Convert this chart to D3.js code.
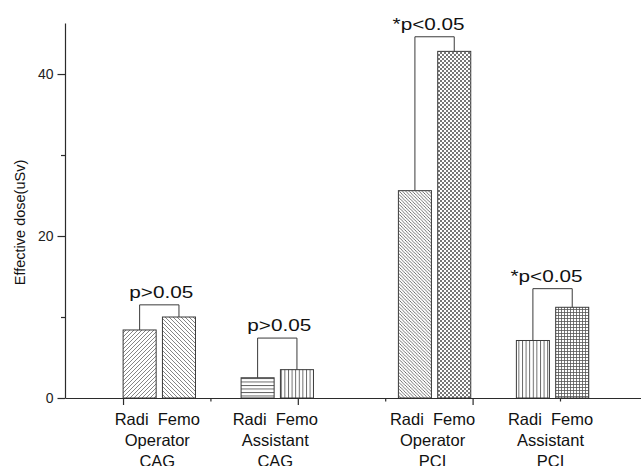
<!DOCTYPE html>
<html>
<head>
<meta charset="utf-8">
<script src="https://cdn.jsdelivr.net/npm/d3@7"></script>
<style>
html, body { margin: 0; padding: 0; background: #fff; }
svg { display: block; font-family: "Liberation Sans", Arial, sans-serif; }
.axis path, .axis line { stroke: #2b2b2b; stroke-width: 1.2; }
.axis text { font-size: 14px; fill: #222; font-family: "Liberation Sans", Arial, sans-serif; }
</style>
</head>
<body>
<script>

// data
var roles = ["Operator", "Assistant", "Operator", "Assistant"];
var procedures = ["CAG", "CAG", "PCI", "PCI"];
var radiValues = [8.4, 2.5, 25.6, 7.1];
var femoValues = [10.0, 3.5, 42.8, 11.2];
var radiPos = [1.19, 2.54, 4.34, 5.69];
var femoPos = [1.64, 2.99, 4.79, 6.14];
var pLabels = ["p>0.05", "p>0.05", "*p<0.05", "*p<0.05"];
var bracketLevels = [11.5, 7.4, 44.6, 13.5];
var radiFills = ["diagUp", "hLines", "diagDownFine", "vLines"];
var femoFills = ["diagDown", "vLines", "checker", "grid"];
var yMajor = [0, 20, 40];
var yMinor = [10, 30];
var xMajor = [1, 3, 5];
var xMinor = [2, 4, 6];

var width = 641, height = 466, barW = 0.378;

var svg = d3.select("body").append("svg")
    .attr("width", width)
    .attr("height", height);

var x = d3.scaleLinear().domain([0.336, 6.927]).range([65, 641]);
var y = d3.scaleLinear().domain([0, 46.3]).range([398, 23]);

// hatch patterns
var defs = svg.append("defs");
function pattern(id, w, h, draw) {
  var p = defs.append("pattern")
      .attr("id", id)
      .attr("patternUnits", "userSpaceOnUse")
      .attr("width", w)
      .attr("height", h);
  p.append("rect").attr("width", w).attr("height", h).attr("fill", "#fff");
  draw(p);
}
function lines(d, sw, col) {
  return function(p) {
    p.append("path").attr("d", d).attr("stroke", col || "#555")
        .attr("stroke-width", sw).attr("fill", "none");
  };
}
pattern("diagUp", 4, 4, lines("M-1,1 l2,-2 M0,4 l4,-4 M3,5 l2,-2", 0.8, "#666"));
pattern("diagDown", 4, 4, lines("M-1,3 l2,2 M0,0 l4,4 M3,-1 l2,2", 0.8, "#666"));
pattern("diagDownFine", 3.3, 3.3, lines("M-1,2.3 l2,2 M0,0 l3.3,3.3 M2.3,-1 l2,2", 0.8));
pattern("hLines", 4, 3.5, lines("M0,0.5 h4", 0.9));
pattern("vLines", 3.6, 4, lines("M0.5,0 v4", 0.9));
pattern("grid", 3, 3, lines("M0,0.5 h3 M0.5,0 v3", 0.8, "#555"));
pattern("checker", 4, 4, function(p) {
  p.append("rect").attr("x", 0).attr("y", 0).attr("width", 2).attr("height", 2).attr("fill", "#777");
  p.append("rect").attr("x", 2).attr("y", 2).attr("width", 2).attr("height", 2).attr("fill", "#777");
});

// axes
svg.append("g").attr("class", "axis")
    .attr("transform", "translate(65,0)")
    .call(d3.axisLeft(y).tickValues(yMajor).tickSize(7.5).tickSizeOuter(0).tickPadding(4));
svg.append("g").attr("class", "axis")
    .attr("transform", "translate(65,0)")
    .call(d3.axisLeft(y).tickValues(yMinor).tickSize(4).tickSizeOuter(0).tickFormat(""))
    .select(".domain").remove();

var bars = svg.append("g");
radiValues.forEach(function(v, i) {
  [[radiPos[i], v, radiFills[i]], [femoPos[i], femoValues[i], femoFills[i]]].forEach(function(b) {
    bars.append("rect")
        .attr("x", x(b[0] - barW / 2))
        .attr("y", y(b[1]))
        .attr("width", x(b[0] + barW / 2) - x(b[0] - barW / 2))
        .attr("height", y(0) - y(b[1]))
        .attr("fill", "url(#" + b[2] + ")")
        .attr("stroke", "#3a3a3a")
        .attr("stroke-width", 1);
  });
});

svg.append("g").attr("class", "axis")
    .attr("transform", "translate(0," + y(0) + ")")
    .call(d3.axisBottom(x).tickValues(xMajor).tickSize(7).tickSizeOuter(0).tickFormat(""));
svg.append("g").attr("class", "axis")
    .attr("transform", "translate(0," + y(0) + ")")
    .call(d3.axisBottom(x).tickValues(xMinor).tickSize(3.5).tickSizeOuter(0).tickFormat(""))
    .select(".domain").remove();

// significance brackets
var br = svg.append("g");
pLabels.forEach(function(lab, i) {
  var x1 = x(radiPos[i]), x2 = x(femoPos[i]), top = y(bracketLevels[i]);
  br.append("path")
      .attr("d", "M" + x1 + "," + y(radiValues[i]) + "V" + top + "H" + x2 + "V" + y(femoValues[i]))
      .attr("fill", "none")
      .attr("stroke", "#3a3a3a")
      .attr("stroke-width", 1);
  var star = lab.charAt(0) === "*";
  br.append("text")
      .attr("x", (x1 + x2) / 2 + (star ? -6 : 2))
      .attr("y", top - 7)
      .attr("text-anchor", "middle")
      .attr("font-size", 16.5)
      .attr("fill", "#111")
      .attr("textLength", star ? 72 : 64)
      .attr("lengthAdjust", "spacingAndGlyphs")
      .text(lab);
});

// category labels
var cl = svg.append("g").attr("font-size", 16.5).attr("fill", "#111").attr("text-anchor", "middle");
roles.forEach(function(r, i) {
  var cx = (x(radiPos[i]) + x(femoPos[i])) / 2 - 2;
  cl.append("text").attr("x", cx).attr("y", 425).style("white-space", "pre").text("Radi  Femo");
  cl.append("text").attr("x", cx).attr("y", 446).text(r);
  cl.append("text").attr("x", cx).attr("y", 467).text(procedures[i]);
});

// y title
svg.append("text")
    .attr("transform", "translate(25,222.5) rotate(-90)")
    .attr("text-anchor", "middle")
    .attr("font-size", 14.5)
    .attr("fill", "#111")
    .text("Effective dose(uSv)");

</script>
</body>
</html>
